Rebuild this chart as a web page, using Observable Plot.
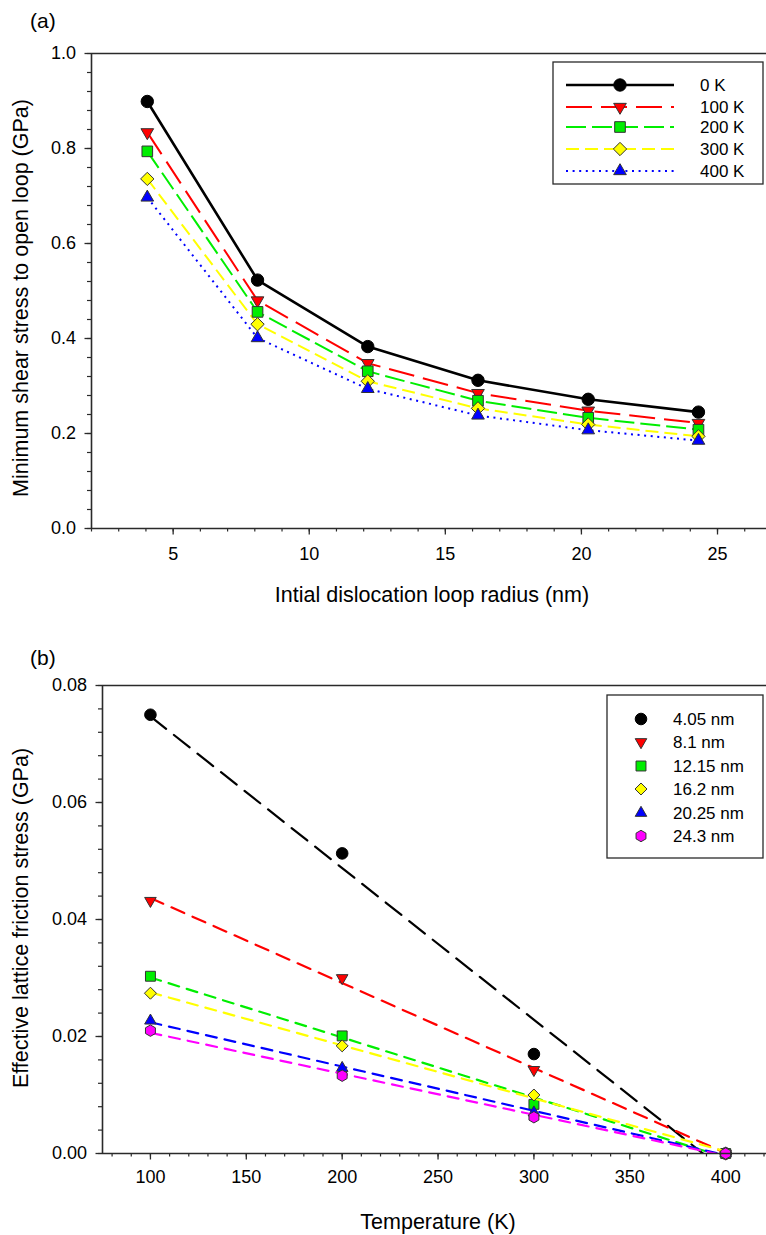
<!DOCTYPE html>
<html><head><meta charset="utf-8">
<script src="https://cdn.jsdelivr.net/npm/d3@7"></script>
<script src="https://cdn.jsdelivr.net/npm/@observablehq/plot@0.6"></script>
<style>
body{margin:0;background:#fff;}
#page{position:relative;width:766px;height:1235px;overflow:hidden;background:#fff;}
.panel{position:absolute;left:0;}
</style></head><body><div id="page"></div>
<script>
// ---------- Data: panel (a) ----------
const loopRadius = [4.05, 8.1, 12.15, 16.2, 20.25, 24.3];
const tempLabels = ["0 K", "100 K", "200 K", "300 K", "400 K"];
const stress0K   = [0.899, 0.523, 0.383, 0.312, 0.272, 0.245];
const stress100K = [0.834, 0.480, 0.348, 0.285, 0.248, 0.222];
const stress200K = [0.794, 0.456, 0.331, 0.269, 0.233, 0.208];
const stress300K = [0.736, 0.430, 0.310, 0.253, 0.219, 0.194];
const stress400K = [0.697, 0.401, 0.294, 0.238, 0.207, 0.185];
const xTicksA = [5, 10, 15, 20, 25];
const yTicksA = [0.0, 0.2, 0.4, 0.6, 0.8, 1.0];

// ---------- Data: panel (b) ----------
const temperature = [100, 200, 300, 400];
const radiusLabels = ["4.05 nm", "8.1 nm", "12.15 nm", "16.2 nm", "20.25 nm", "24.3 nm"];
const friction405  = [0.0750, 0.0513, 0.0170, 0];
const friction81   = [0.0432, 0.0300, 0.0143, 0];
const friction1215 = [0.0303, 0.0201, 0.0084, 0];
const friction162  = [0.0274, 0.0184, 0.0100, 0];
const friction2025 = [0.0227, 0.0146, 0.0070, 0];
const friction243  = [0.0210, 0.0133, 0.0062, 0];
const xTicksB = [100, 150, 200, 250, 300, 350, 400];
const yTicksB = [0.00, 0.02, 0.04, 0.06, 0.08];

// ---------- Symbols ----------
const sqrt3 = Math.sqrt(3);
const symTriDown = {draw(ctx, size) {
  const y = Math.sqrt(size / (sqrt3 * 3));
  ctx.moveTo(0, y * 2); ctx.lineTo(-sqrt3 * y, -y); ctx.lineTo(sqrt3 * y, -y); ctx.closePath();
}};
const symHex = {draw(ctx, size) {
  const R = Math.sqrt(2 * size / (3 * sqrt3));
  for (let k = 0; k < 6; k++) {
    const a = Math.PI / 2 + k * Math.PI / 3;
    const px = R * Math.cos(a), py = R * Math.sin(a);
    k ? ctx.lineTo(px, py) : ctx.moveTo(px, py);
  }
  ctx.closePath();
}};

const FONT = "'Liberation Sans', Arial, Helvetica, sans-serif";
const AXIS = "#2a2a2a";

// ---------- Styles ----------
const stylesA = [
  {color: "#000000", dash: null, width: 2.6, symbol: d3.symbolCircle, r: 6.2, mstroke: "#000"},
  {color: "#ff0000", dash: "26,9", width: 2, symbol: symTriDown, r: 4.7, mstroke: "#333"},
  {color: "#00ee00", dash: "20,6", width: 2, symbol: d3.symbolSquare, r: 6.0, mstroke: "#333"},
  {color: "#ffff00", dash: "13,6", width: 2, symbol: d3.symbolDiamond2, r: 6.0, mstroke: "#333"},
  {color: "#0000ff", dash: "2,4.6", width: 2, symbol: d3.symbolTriangle, r: 4.7, mstroke: "#333"}
];
const stylesB = [
  {color: "#000000", dash: "20,10", symbol: d3.symbolCircle, r: 5.8, mstroke: "#000"},
  {color: "#ff0000", dash: "14,9", symbol: symTriDown, r: 4.3, mstroke: "#333"},
  {color: "#00ee00", dash: "11,8", symbol: d3.symbolSquare, r: 5.6, mstroke: "#333"},
  {color: "#ffff00", dash: "11,8", symbol: d3.symbolDiamond2, r: 5.4, mstroke: "#333"},
  {color: "#0000ff", dash: "11,8", symbol: d3.symbolTriangle, r: 4.3, mstroke: "#333"},
  {color: "#ff00ff", dash: "11,8", symbol: symHex, r: 5.2, mstroke: "#333"}
];

// ---------- Tables ----------
const seriesA = [stress0K, stress100K, stress200K, stress300K, stress400K];
const tableA = seriesA.map((vals, i) => loopRadius.map((r, j) => ({series: tempLabels[i], i, r, s: vals[j]})));
const seriesB = [friction405, friction81, friction1215, friction162, friction2025, friction243];
const tableB = seriesB.map((vals, i) => temperature.map((t, j) => ({series: radiusLabels[i], i, t, f: vals[j]})));

const page = d3.select("#page");

// ---------- Panel (a) ----------
const xDomA = [2, 26.8];
const plotA = Plot.plot({
  width: 766, height: 620,
  marginTop: 53, marginBottom: 92, marginLeft: 91, marginRight: 0,
  x: {domain: xDomA},
  y: {domain: [0, 1]},
  style: {fontFamily: FONT, fontSize: "18px", background: "transparent", color: "#000", overflow: "visible"},
  marks: [
    Plot.axisX(d3.range(2, 27, 1), {tickSize: 3.5, tickFormat: () => "", label: null, stroke: AXIS, strokeWidth: 1.2}),
    Plot.axisX(xTicksA, {tickSize: 6.5, tickPadding: 12, label: null, stroke: AXIS, strokeWidth: 1.3, fill: "#000"}),
    Plot.axisY(d3.range(0, 1.001, 0.04), {tickSize: 4, tickFormat: () => "", label: null, stroke: AXIS, strokeWidth: 1.2}),
    Plot.axisY(yTicksA, {tickSize: 6.5, tickPadding: 9, tickFormat: d3.format(".1f"), label: null, stroke: AXIS, strokeWidth: 1.3, fill: "#000"}),
    Plot.ruleY([0, 1], {stroke: AXIS, strokeWidth: 1.6}),
    Plot.ruleX([xDomA[0]], {stroke: AXIS, strokeWidth: 1.6}),
    ...tableA.map((d, i) => Plot.line(d, {x: "r", y: "s", stroke: stylesA[i].color, strokeWidth: stylesA[i].width,
        strokeDasharray: stylesA[i].dash ?? undefined, strokeLinecap: "butt"})),
    ...tableA.map((d, i) => Plot.dot(d, {x: "r", y: "s", symbol: stylesA[i].symbol, r: stylesA[i].r,
        fill: stylesA[i].color, stroke: stylesA[i].mstroke, strokeWidth: 1}))
  ]
});
page.append("div").attr("class", "panel").style("top", "0px").node().append(plotA);

// ---------- Panel (b) ----------
const xDomB = [75, 421.3];
const plotB = Plot.plot({
  width: 766, height: 615,
  marginTop: 65, marginBottom: 82, marginLeft: 102, marginRight: 0,
  x: {domain: xDomB},
  y: {domain: [0, 0.08]},
  style: {fontFamily: FONT, fontSize: "18px", background: "transparent", color: "#000", overflow: "visible"},
  marks: [
    Plot.axisX(d3.range(80, 421, 10), {tickSize: 3.5, tickFormat: () => "", label: null, stroke: AXIS, strokeWidth: 1.2}),
    Plot.axisX(xTicksB, {tickSize: 6.5, tickPadding: 10, label: null, stroke: AXIS, strokeWidth: 1.3, fill: "#000"}),
    Plot.axisY(d3.range(0, 0.0801, 0.004), {tickSize: 4, tickFormat: () => "", label: null, stroke: AXIS, strokeWidth: 1.2}),
    Plot.axisY(yTicksB, {tickSize: 6.5, tickPadding: 9, tickFormat: d3.format(".2f"), label: null, stroke: AXIS, strokeWidth: 1.3, fill: "#000"}),
    ...tableB.flatMap((d, i) => [
      Plot.linearRegressionY(d, {x: "t", y: "f", ci: 0, stroke: stylesB[i].color, strokeWidth: 2.2,
        strokeDasharray: stylesB[i].dash, clip: true}),
      Plot.dot(d, {x: "t", y: "f", symbol: stylesB[i].symbol, r: stylesB[i].r,
        fill: stylesB[i].color, stroke: stylesB[i].mstroke, strokeWidth: 1})
    ]),
    Plot.ruleY([0, 0.08], {stroke: AXIS, strokeWidth: 1.6}),
    Plot.ruleX([xDomB[0]], {stroke: AXIS, strokeWidth: 1.6})
  ]
});
page.append("div").attr("class", "panel").style("top", "620px").node().append(plotB);

// ---------- Overlay: titles and legends ----------
const ov = page.append("svg").attr("width", 766).attr("height", 1235)
  .style("position", "absolute").style("left", 0).style("top", 0)
  .style("font-family", FONT).style("pointer-events", "none");

function txt(x, y, s, size, rot, anchor) {
  ov.append("text").attr("transform", `translate(${x},${y})` + (rot ? ` rotate(${rot})` : ""))
    .attr("text-anchor", anchor || "middle").attr("dominant-baseline", "central")
    .attr("font-size", size).attr("fill", "#000").text(s);
}
txt(30, 20, "(a)", 21, 0, "start");
txt(21, 298, "Minimum shear stress to open loop (GPa)", 21.5, -90);
txt(432, 595, "Intial dislocation loop radius (nm)", 21.5, 0);
txt(30, 657, "(b)", 21, 0, "start");
txt(21, 918, "Effective lattice friction stress (GPa)", 21.5, -90);
txt(438, 1222, "Temperature (K)", 21.5, 0);

// legend (a)
const legA = ov.append("g");
legA.append("rect").attr("x", 553).attr("y", 62).attr("width", 210).attr("height", 122)
  .attr("fill", "#fff").attr("stroke", AXIS).attr("stroke-width", 1.3);
const rowsA = [85, 107, 127, 149, 171];
tempLabels.forEach((lab, i) => {
  const st = stylesA[i], y = rowsA[i];
  legA.append("line").attr("x1", 566).attr("x2", 674).attr("y1", y).attr("y2", y)
    .attr("stroke", st.color).attr("stroke-width", st.width).attr("stroke-dasharray", st.dash);
  legA.append("path").attr("transform", `translate(620,${y})`)
    .attr("d", d3.symbol(st.symbol, st.r * st.r * Math.PI)())
    .attr("fill", st.color).attr("stroke", st.mstroke).attr("stroke-width", 1);
  legA.append("text").attr("x", 700).attr("y", y).attr("dominant-baseline", "central")
    .attr("font-size", 17).text(lab);
});

// legend (b)
const legB = ov.append("g");
legB.append("rect").attr("x", 607).attr("y", 695).attr("width", 156).attr("height", 163)
  .attr("fill", "#fff").attr("stroke", AXIS).attr("stroke-width", 1.3);
const rowsB = [719, 742, 766, 789, 813, 836];
radiusLabels.forEach((lab, i) => {
  const st = stylesB[i], y = rowsB[i];
  legB.append("path").attr("transform", `translate(641,${y})`)
    .attr("d", d3.symbol(st.symbol, st.r * st.r * Math.PI)())
    .attr("fill", st.color).attr("stroke", st.mstroke).attr("stroke-width", 1);
  legB.append("text").attr("x", 673).attr("y", y).attr("dominant-baseline", "central")
    .attr("font-size", 17).text(lab);
});
</script></body></html>
